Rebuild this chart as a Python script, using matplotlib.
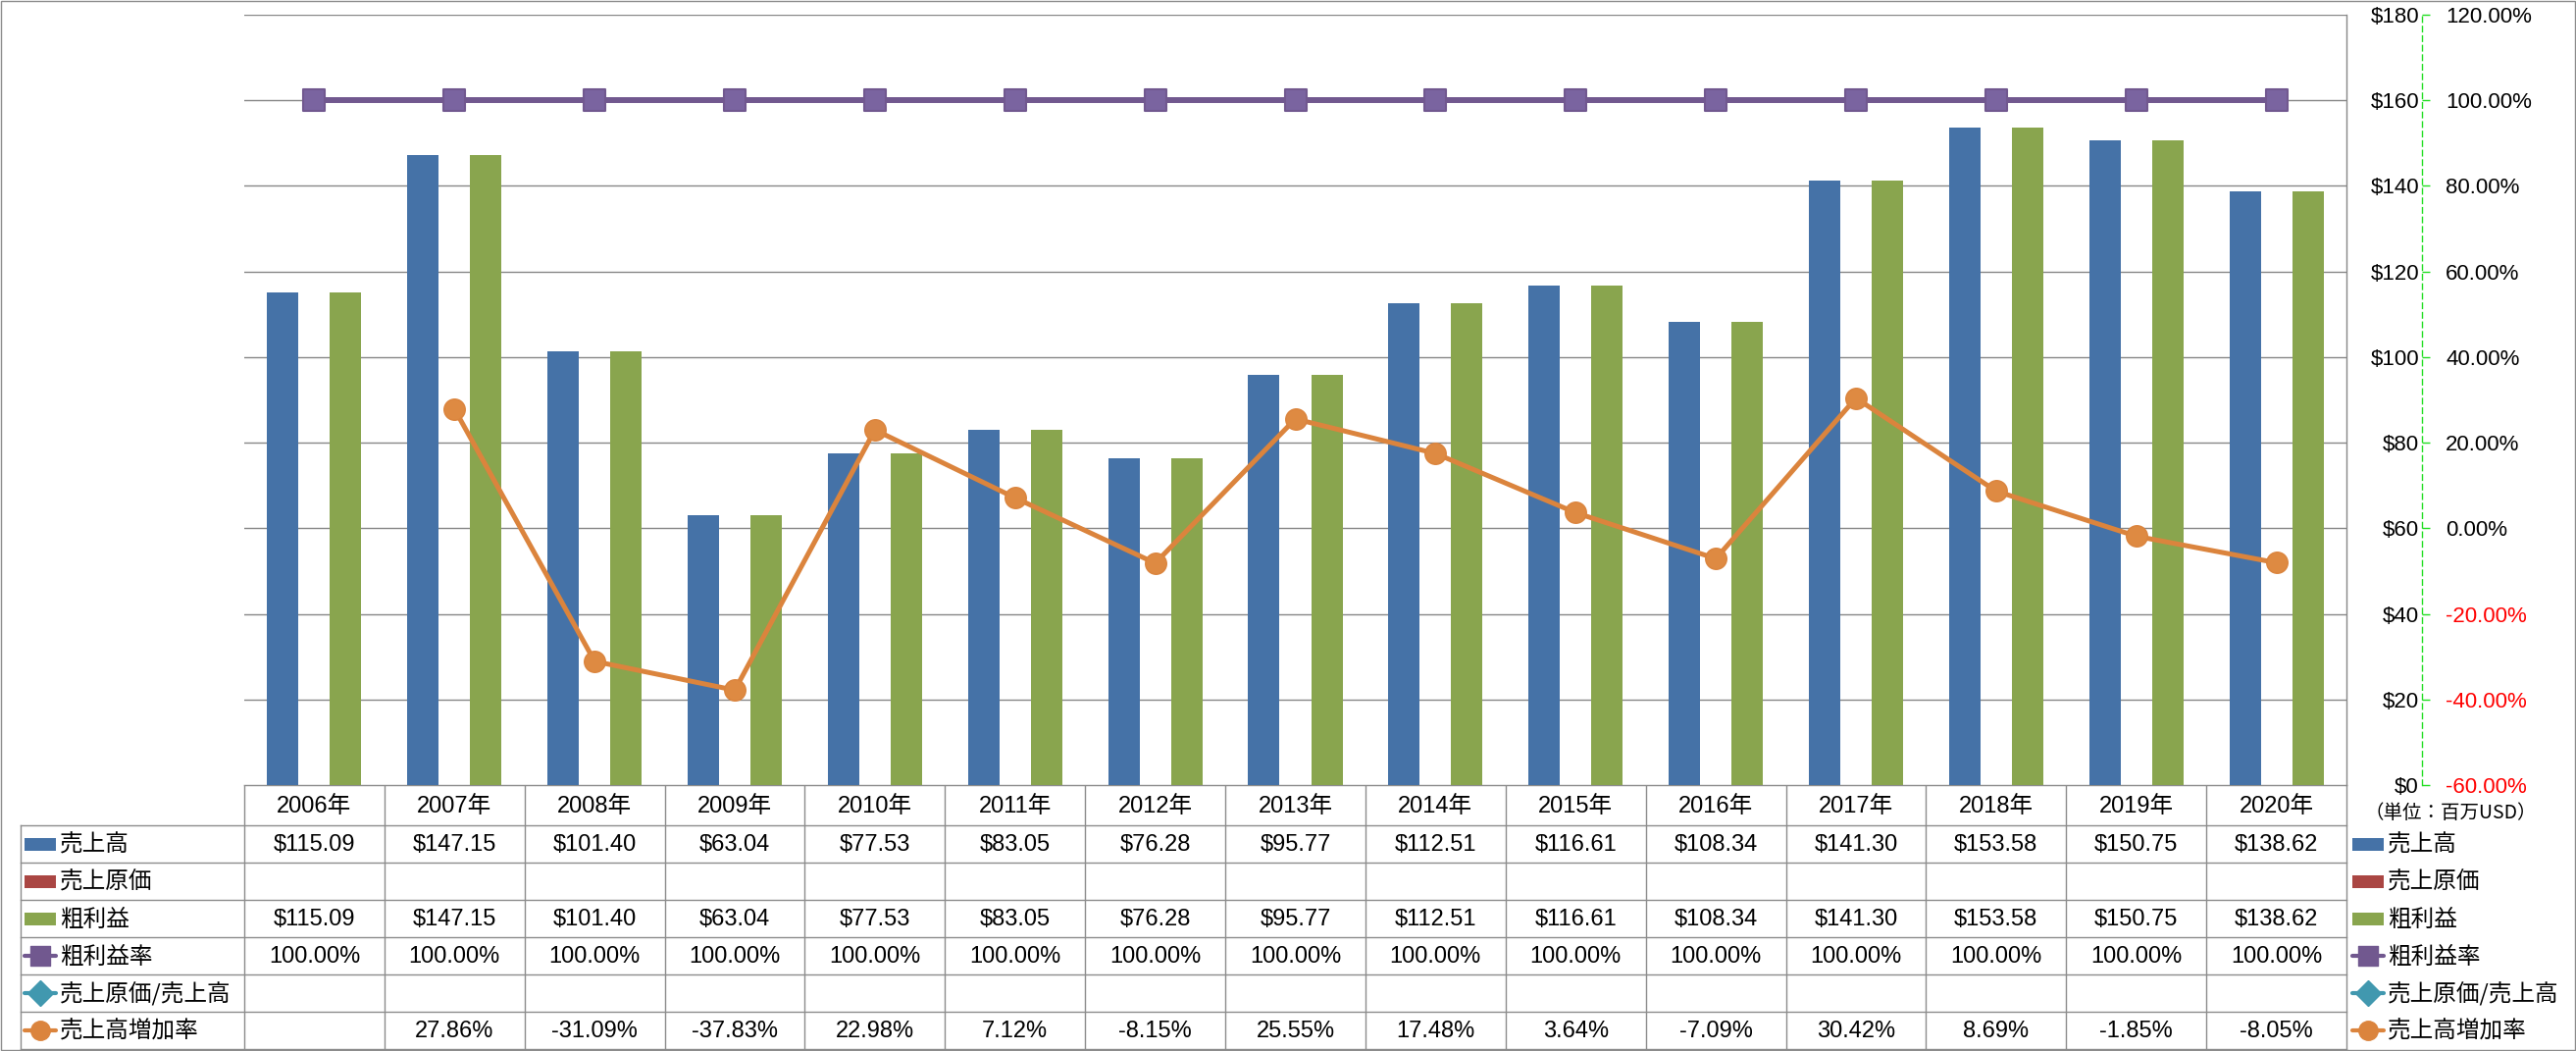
import numpy as np
import matplotlib
matplotlib.use('Agg')
import matplotlib.pyplot as plt
from matplotlib.patches import Rectangle
from matplotlib.lines import Line2D
from matplotlib.markers import MarkerStyle
from matplotlib.ticker import FixedLocator, FuncFormatter

# ---------------- data ----------------
years = ['2006年', '2007年', '2008年', '2009年', '2010年', '2011年', '2012年', '2013年',
         '2014年', '2015年', '2016年', '2017年', '2018年', '2019年', '2020年']
sales = [115.09, 147.15, 101.40, 63.04, 77.53, 83.05, 76.28, 95.77,
         112.51, 116.61, 108.34, 141.30, 153.58, 150.75, 138.62]
cost_of_sales = [np.nan] * 15
gross_profit = [115.09, 147.15, 101.40, 63.04, 77.53, 83.05, 76.28, 95.77,
                112.51, 116.61, 108.34, 141.30, 153.58, 150.75, 138.62]
gross_margin = [100.00] * 15
cost_ratio = [np.nan] * 15
sales_growth = [np.nan, 27.86, -31.09, -37.83, 22.98, 7.12, -8.15, 25.55,
                17.48, 3.64, -7.09, 30.42, 8.69, -1.85, -8.05]
series_names = ['売上高', '売上原価', '粗利益', '粗利益率', '売上原価/売上高', '売上高増加率']
left_ticks = [0, 20, 40, 60, 80, 100, 120, 140, 160, 180]
right_ticks = [-60, -40, -20, 0, 20, 40, 60, 80, 100, 120]
unit_label = '（単位：百万USD）'

# ---------------- style ----------------
C_BLUE, C_RED, C_GREEN = '#4572A7', '#AA4643', '#89A54E'
C_PURPLE, C_TEAL, C_ORANGE = '#71588F', '#4198AF', '#DB843D'
GRID = '#878787'
TABLE = '#8C8C8C'
NUM = ['Liberation Sans', 'Noto Sans CJK JP', 'DejaVu Sans']
CJK = ['Noto Sans CJK JP', 'DejaVu Sans']
plt.rcParams['font.family'] = NUM

W, H, DPI = 2626, 1071, 100
PX = 72.0 / DPI  # points per pixel
fig = plt.figure(figsize=(W / DPI, H / DPI), dpi=DPI)

PL, PR, PT, PB = 249, 2392, 15, 800
ax = fig.add_axes([PL / W, 1 - PB / H, (PR - PL) / W, (PB - PT) / H])
ax2 = ax.twinx()

x = np.arange(len(years))
bw = 0.224
ax.bar(x - bw, sales, bw, color=C_BLUE, zorder=3)
ax.bar(x, cost_of_sales, bw, color=C_RED, zorder=3)
ax.bar(x + bw, gross_profit, bw, color=C_GREEN, zorder=3)
ax.set_xlim(-0.5, len(years) - 0.5)
ax.set_ylim(0, 180)
ax.yaxis.set_major_locator(FixedLocator(left_ticks))
ax.yaxis.set_major_formatter(FuncFormatter(lambda v, p: f'${v:.0f}'))
ax.grid(axis='y', color=GRID, lw=1.0, zorder=0)
ax.set_axisbelow(True)
ax.set_xticks([])
for s in ['left', 'top', 'bottom']:
    ax.spines[s].set_visible(False)
ax.spines['right'].set_color(GRID)
ax.spines['right'].set_linewidth(1.0)
ax.yaxis.tick_right()
ax.tick_params(axis='y', length=0, pad=74 * PX, labelsize=16)
for lbl in ax.yaxis.get_ticklabels():
    lbl.set_horizontalalignment('right')

sq = MarkerStyle('s', joinstyle='round')
ax2.plot(x, gross_margin, color=C_PURPLE, lw=4.3, marker=sq, ms=15.5, mew=1.5,
         mfc='#7A64A0', mec=C_PURPLE, zorder=4)
ax2.plot(x, cost_ratio, color=C_TEAL, lw=4, marker='D', ms=14, zorder=4)
ax2.plot(x, sales_growth, color=C_ORANGE, lw=3.6, marker='o', ms=15.5, mew=1.0,
         mfc='#DE8A42', mec=C_ORANGE, zorder=5)
ax2.set_ylim(-60, 120)
ax2.yaxis.set_major_locator(FixedLocator(right_ticks))
ax2.yaxis.set_major_formatter(FuncFormatter(lambda v, p: f'{v:.2f}%'))
for s in ['left', 'top', 'bottom']:
    ax2.spines[s].set_visible(False)
ax2.spines['right'].set_position(('outward', 77 * PX))
ax2.spines['right'].set_color('#22DD22')
ax2.spines['right'].set_linestyle((0, (4, 3)))
ax2.spines['right'].set_linewidth(1.0)
ax2.tick_params(axis='y', direction='out', length=8 * PX, width=1.0, color='#22DD22',
                pad=16 * PX, labelsize=16)
for v, lbl in zip(right_ticks, ax2.yaxis.get_ticklabels()):
    if v < 0:
        lbl.set_color('#FF0000')

# ---------------- data table & legend (overlay in pixel units) ----------------
ov = fig.add_axes([0, 0, 1, 1], zorder=-1)
ov.set_xlim(0, W)
ov.set_ylim(H, 0)
ov.axis('off')

def hline(y, x0, x1):
    ov.add_line(Line2D([x0, x1], [y, y], color=TABLE, lw=1.0, clip_on=False))

def vline(xx, y0, y1):
    ov.add_line(Line2D([xx, xx], [y0, y1], color=TABLE, lw=1.0, clip_on=False))

# outer frame
ov.add_patch(Rectangle((0.5, 0.5), W - 1.5, H - 2, fill=False, ec=TABLE, lw=1.0, clip_on=False))

hdr_top, hdr_bot, row_h = PB, 841, 38
LX0 = 20.5
n = len(years)
colw = (PR - PL) / n
nrows = len(series_names)
hline(hdr_top, PL, PR)
for i in range(nrows + 1):
    hline(hdr_bot + i * row_h, LX0, PR)
vline(LX0, hdr_bot, hdr_bot + nrows * row_h)
for k in range(n + 1):
    vline(PL + k * colw, hdr_top, hdr_bot + nrows * row_h)

for k, yr in enumerate(years):
    ov.text(PL + (k + 0.5) * colw, (hdr_top + hdr_bot) / 2 + 1, yr, ha='center', va='center',
            fontsize=17, family=NUM)

def fmt_money(v):
    return '' if np.isnan(v) else f'${v:.2f}'

def fmt_pct(v):
    return '' if np.isnan(v) else f'{v:.2f}%'

rows = [[fmt_money(v) for v in sales],
        [fmt_money(v) for v in cost_of_sales],
        [fmt_money(v) for v in gross_profit],
        [fmt_pct(v) for v in gross_margin],
        [fmt_pct(v) for v in cost_ratio],
        [fmt_pct(v) for v in sales_growth]]
for i, r in enumerate(rows):
    yc = hdr_bot + (i + 0.5) * row_h + 1
    for k, t in enumerate(r):
        if t:
            ov.text(PL + (k + 0.5) * colw, yc, t, ha='center', va='center', fontsize=17, family=NUM)

kinds = [('bar', C_BLUE, None), ('bar', C_RED, None), ('bar', C_GREEN, None),
         ('line', C_PURPLE, sq), ('line', C_TEAL, 'D'), ('line', C_ORANGE, 'o')]

def draw_key(x0, x1, yc, kind, color, marker):
    if kind == 'bar':
        ov.add_patch(Rectangle((x0, yc - 6.5), x1 - x0, 13, color=color, lw=0, clip_on=False))
    else:
        ov.add_line(Line2D([x0, x1], [yc, yc], color=color, lw=3.0, clip_on=False,
                           solid_capstyle='round'))
        ms = 13 if marker == 'D' else 14
        ov.add_line(Line2D([(x0 + x1) / 2], [yc], color=color, marker=marker, ms=ms,
                           mfc=color, mec=color, clip_on=False))

for i, (name, (kind, color, marker)) in enumerate(zip(series_names, kinds)):
    yc = hdr_bot + (i + 0.5) * row_h
    draw_key(25, 57, yc, kind, color, marker)
    ov.text(61, yc + 1, name, ha='left', va='center', fontsize=17, family=CJK)
    draw_key(2398, 2430, yc, kind, color, marker)
    ov.text(2434, yc + 1, name, ha='left', va='center', fontsize=17, family=CJK)

ov.text(2410, 828, unit_label, ha='left', va='center', fontsize=14, family=CJK)

fig.savefig('out.png', dpi=DPI, facecolor='white')
